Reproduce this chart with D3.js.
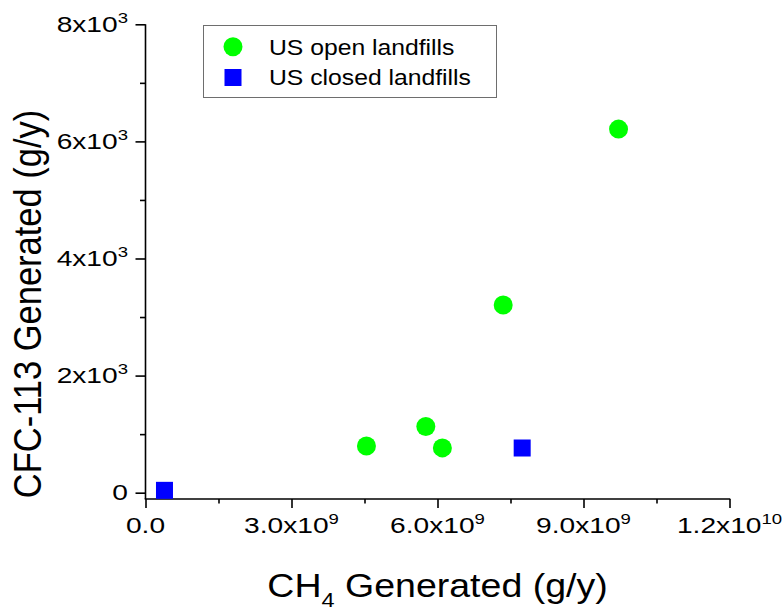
<!DOCTYPE html>
<html><head><meta charset="utf-8">
<script src="https://cdn.jsdelivr.net/npm/d3@7"></script>
<style>body{margin:0;background:#fff}svg{display:block}text{font-family:Arial,"Liberation Sans",sans-serif;fill:#000}</style>
</head><body>
<svg id="c" width="782" height="614"></svg>
<script>
// Data
const openX = [4.54e9, 5.76e9, 6.10e9, 7.35e9, 9.72e9];
const openY = [797, 1130, 765, 3205, 6210];
const closedX = [0.39e9, 7.74e9];
const closedY = [40, 763];
const seriesNames = ["US open landfills", "US closed landfills"];
const xMajor = [0, 3e9, 6e9, 9e9, 12e9];
const xMinor = [1.5e9, 4.5e9, 7.5e9, 10.5e9];
const xTickMain = ["0.0", "3.0x10", "6.0x10", "9.0x10", "1.2x10"];
const xTickSup = ["", "9", "9", "9", "10"];
const yMajor = [0, 2000, 4000, 6000, 8000];
const yMinor = [1000, 3000, 5000, 7000];
const yTickMain = ["0", "2x10", "4x10", "6x10", "8x10"];
const yTickSup = ["", "3", "3", "3", "3"];
const xTitle = ["CH", "4", " Generated (g/y)"];
const yTitle = "CFC-113 Generated (g/y)";

const svg = d3.select("#c");
const x = d3.scaleLinear().domain([0, 1.2e10]).range([145.5, 729.5]);
const y = d3.scaleLinear().domain([-108, 8000]).range([499, 24.3]);
const SX = 1.28;

// axes ticks
const gx = svg.append("g").attr("transform", `translate(0,${y.range()[0]})`);
gx.call(d3.axisBottom(x).tickValues(xMajor).tickSize(9).tickFormat(() => ""));
gx.call(g => g.select(".domain").remove());
const gxm = svg.append("g").attr("transform", `translate(0,${y.range()[0]})`);
gxm.call(d3.axisBottom(x).tickValues(xMinor).tickSize(4.5).tickFormat(() => ""));
gxm.call(g => g.select(".domain").remove());
const gy = svg.append("g").attr("transform", `translate(${x.range()[0]},0)`);
gy.call(d3.axisLeft(y).tickValues(yMajor).tickSize(10).tickFormat(() => ""));
gy.call(g => g.select(".domain").remove());
const gym = svg.append("g").attr("transform", `translate(${x.range()[0]},0)`);
gym.call(d3.axisLeft(y).tickValues(yMinor).tickSize(5.5).tickFormat(() => ""));
gym.call(g => g.select(".domain").remove());
svg.selectAll(".tick line").attr("stroke", "#000").attr("stroke-width", 1.6);

// axis lines
svg.append("line").attr("x1", x.range()[0]).attr("x2", x.range()[0])
  .attr("y1", y(8000)).attr("y2", y.range()[0]).attr("stroke", "#000").attr("stroke-width", 1.6);
svg.append("line").attr("x1", x.range()[0] - 0.8).attr("x2", x.range()[1] + 0.8)
  .attr("y1", y.range()[0]).attr("y2", y.range()[0]).attr("stroke", "#000").attr("stroke-width", 1.6);

// x tick labels
xMajor.forEach((v, i) => {
  const t = svg.append("text").attr("text-anchor", "middle")
    .attr("transform", `translate(${x(v)},533) scale(${SX},1)`)
    .style("font-size", "22px");
  t.append("tspan").text(xTickMain[i]);
  if (xTickSup[i]) t.append("tspan").attr("dy", -9).style("font-size", "14.5px").text(xTickSup[i]);
});
// y tick labels
yMajor.forEach((v, i) => {
  const t = svg.append("text").attr("text-anchor", "end")
    .attr("transform", `translate(128,${y(v) + 7.5}) scale(${SX},1)`)
    .style("font-size", "22px");
  t.append("tspan").text(yTickMain[i]);
  if (yTickSup[i]) t.append("tspan").attr("dy", -9).style("font-size", "14.5px").text(yTickSup[i]);
});

// titles
const xt = svg.append("text").attr("text-anchor", "middle")
  .attr("transform", `translate(${(x.range()[0] + x.range()[1]) / 2},597) scale(1.12,1)`)
  .style("font-size", "33.5px");
xt.append("tspan").text(xTitle[0]);
xt.append("tspan").attr("dy", 10).style("font-size", "21px").text(xTitle[1]);
xt.append("tspan").attr("dy", -10).text(xTitle[2]);

svg.append("text").attr("text-anchor", "middle")
  .attr("transform", `translate(41,304) scale(1.12,1) rotate(-90)`)
  .style("font-size", "34.5px").text(yTitle);

// points
svg.append("g").selectAll("circle").data(openX).join("circle")
  .attr("cx", d => x(d)).attr("cy", (d, i) => y(openY[i])).attr("r", 9.5)
  .attr("fill", "#00ff00");
svg.append("g").selectAll("rect").data(closedX).join("rect")
  .attr("x", d => x(d) - 8.5).attr("y", (d, i) => y(closedY[i]) - 8.5)
  .attr("width", 17).attr("height", 17).attr("fill", "#0000ff");

// legend
const lg = svg.append("g");
lg.append("rect").attr("x", 203.5).attr("y", 25.5).attr("width", 293).attr("height", 72)
  .attr("fill", "#fff").attr("stroke", "#6e6e6e").attr("stroke-width", 1);
lg.append("circle").attr("cx", 233).attr("cy", 46.7).attr("r", 9.5).attr("fill", "#00ff00");
lg.append("rect").attr("x", 224.5).attr("y", 69).attr("width", 17).attr("height", 17).attr("fill", "#0000ff");
seriesNames.forEach((s, i) => {
  lg.append("text").attr("transform", `translate(269,${54.5 + i * 30.6}) scale(1.15,1)`)
    .style("font-size", "21.5px").text(s);
});
</script>
</body></html>
